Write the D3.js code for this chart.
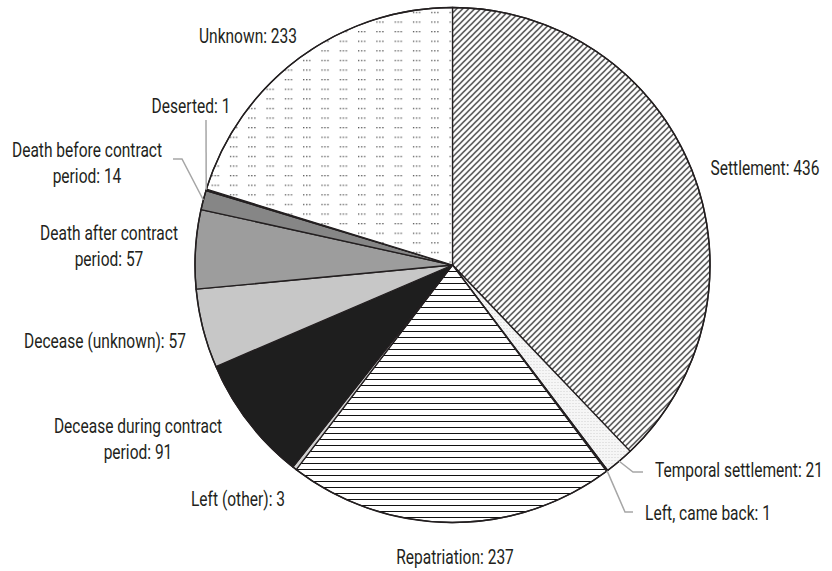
<!DOCTYPE html>
<html>
<head>
<meta charset="utf-8">
<script src="https://cdn.jsdelivr.net/npm/d3@7"></script>
<style>
  body { margin: 0; background: #fff; }
  svg text { font-family: Roboto, "DejaVu Sans", sans-serif; font-size: 21px; fill: #231f20; }
</style>
</head>
<body>
<div class="container"></div>
<script>
// data, clockwise from 12 o'clock
const categories = ['Settlement', 'Temporal settlement', 'Left, came back', 'Repatriation', 'Left (other)',
  'Decease during contract period', 'Decease (unknown)', 'Death after contract period',
  'Death before contract period', 'Deserted', 'Unknown'];
const counts = [436, 21, 1, 237, 3, 91, 57, 57, 14, 1, 233];
const labelLines = [
  ['Settlement: 436'],
  ['Temporal settlement: 21'],
  ['Left, came back: 1'],
  ['Repatriation: 237'],
  ['Left (other): 3'],
  ['Decease during contract', 'period: 91'],
  ['Decease (unknown): 57'],
  ['Death after contract', 'period: 57'],
  ['Death before contract', 'period: 14'],
  ['Deserted: 1'],
  ['Unknown: 233']
];

// fills (pattern ids or colours), same order as categories
const fills = ['url(#diag)', 'url(#stipple)', '#1e1e1e', 'url(#horiz)', '#d2d2d2',
  '#1e1e1e', '#c7c7c7', '#9d9d9d', '#868686', '#1e1e1e', 'url(#dots)'];

// label placement: text centre x, first baseline y, and leader elbow points
const labelPos = [
  {x: 765, y: 175},
  {x: 739, y: 477, leader: [[633, 472], [643, 472]]},
  {x: 708, y: 520, leader: [[625, 512], [633, 512]]},
  {x: 455, y: 564},
  {x: 238, y: 506},
  {x: 138, y: 433},
  {x: 105, y: 348},
  {x: 109, y: 240},
  {x: 87, y: 157, leader: [[182, 159], [173, 159]]},
  {x: 191, y: 113, leader: [[206, 120]]},
  {x: 248, y: 43}
];

const width = 832, height = 571;
const cx = 452.5, cy = 265, radius = 257.5;
const lineGap = 26;
const squeeze = 0.74; // condensed face look

const svg = d3.select('.container').append('svg')
  .attr('width', width)
  .attr('height', height);

const defs = svg.append('defs');

const diag = defs.append('pattern').attr('id', 'diag')
  .attr('patternUnits', 'userSpaceOnUse').attr('width', 6).attr('height', 6);
diag.append('rect').attr('width', 6).attr('height', 6).attr('fill', '#fff');
diag.append('path').attr('d', 'M-1,1 L1,-1 M0,6 L6,0 M5,7 L7,5')
  .attr('stroke', '#111').attr('stroke-width', 1.2);

const horiz = defs.append('pattern').attr('id', 'horiz')
  .attr('patternUnits', 'userSpaceOnUse').attr('width', 6).attr('height', 6);
horiz.append('rect').attr('width', 6).attr('height', 6).attr('fill', '#fff');
horiz.append('path').attr('d', 'M0,0.5 L6,0.5')
  .attr('stroke', '#111').attr('stroke-width', 1);

const stipple = defs.append('pattern').attr('id', 'stipple')
  .attr('patternUnits', 'userSpaceOnUse').attr('width', 3).attr('height', 3);
stipple.append('rect').attr('width', 3).attr('height', 3).attr('fill', '#f6f6f6');
stipple.append('rect').attr('width', 1).attr('height', 1).attr('fill', '#d0d0d0');

const dots = defs.append('pattern').attr('id', 'dots')
  .attr('patternUnits', 'userSpaceOnUse').attr('width', 18.3).attr('height', 9.6)
  .attr('x', cx + 2).attr('y', 6);
dots.append('rect').attr('width', 18.3).attr('height', 9.6).attr('fill', '#fff');
[0, 3, 6].forEach(function(dx) {
  dots.append('rect').attr('x', dx).attr('y', 0).attr('width', 1.3).attr('height', 1.3).attr('fill', '#555');
});

const data = categories.map(function(c, i) {
  return {name: c, value: counts[i], fill: fills[i], lines: labelLines[i], pos: labelPos[i]};
});

const pie = d3.pie().sort(null).value(function(d) { return d.value; });
const arc = d3.arc().innerRadius(0).outerRadius(radius);
const arcs = pie(data);

const chart = svg.append('g').attr('transform', 'translate(' + cx + ',' + cy + ')');

chart.selectAll('.slice')
  .data(arcs)
  .enter()
  .append('path')
  .attr('class', 'slice')
  .attr('d', arc)
  .attr('fill', function(d) { return d.data.fill; })
  .attr('stroke', '#231f20')
  .attr('stroke-width', 1.3)
  .attr('stroke-linejoin', 'round');

chart.append('circle')
  .attr('r', radius)
  .attr('fill', 'none')
  .attr('stroke', '#231f20')
  .attr('stroke-width', 1.5);

// leader lines start on the rim at the slice middle
const leaders = svg.append('g');
arcs.forEach(function(d) {
  if (!d.data.pos.leader) return;
  const mid = (d.startAngle + d.endAngle) / 2;
  const start = [cx + radius * Math.sin(mid), cy - radius * Math.cos(mid)];
  leaders.append('path')
    .attr('d', d3.line()([start].concat(d.data.pos.leader)))
    .attr('fill', 'none')
    .attr('stroke', '#a6a6a6')
    .attr('stroke-width', 1.5);
});

const labels = svg.append('g');
data.forEach(function(d) {
  const t = labels.append('text')
    .attr('text-anchor', 'middle')
    .attr('transform', 'translate(' + d.pos.x + ',' + d.pos.y + ') scale(' + squeeze + ',1)');
  d.lines.forEach(function(line, j) {
    t.append('tspan').attr('x', 0).attr('y', j * lineGap).text(line);
  });
});
</script>
</body>
</html>
